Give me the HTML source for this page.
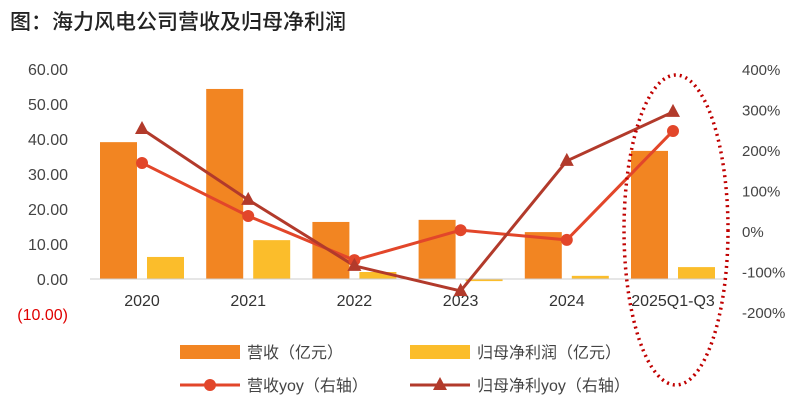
<!DOCTYPE html>
<html><head><meta charset="utf-8"><style>
body{margin:0;width:806px;height:412px;background:#fff;overflow:hidden;font-family:"Liberation Sans","Noto Sans CJK SC",sans-serif}
</style></head><body>
<svg width="806" height="412" font-family="Liberation Sans, Noto Sans CJK SC, sans-serif">
<text x="10" y="29" font-size="21" font-weight="500" fill="#222">图：海力风电公司营收及归母净利润</text>
<g id="g"></g>
<ellipse cx="676" cy="230" rx="52" ry="155" fill="none" stroke="#C00000" stroke-width="3.5" stroke-dasharray="2,4"/>
</svg>
<script>
const categories=["2020","2021","2022","2023","2024","2025Q1-Q3"];
const revenue=[39.1,54.3,16.3,16.9,13.4,36.6];
const profit=[6.3,11.1,2.0,-0.6,0.9,3.4];
const revYoy=[168,37,-72,2,-22,247];
const profitYoy=[252,77,-86,-148,173,294];
const leftTicks=[60,50,40,30,20,10,0,-10];
const rightTicks=[400,300,200,100,0,-100,-200];
const NS="http://www.w3.org/2000/svg";
const g=document.getElementById('g');
const yL=v=>279-v*3.5;
const yR=v=>231-v*0.405;
const xC=i=>142+i*106.2;
function mk(t,a,p){const e=document.createElementNS(NS,t);for(const k in a)e.setAttribute(k,a[k]);(p||g).appendChild(e);return e;}
leftTicks.forEach(t=>{const e=mk('text',{x:68,y:yL(t)+6,'font-size':16,'text-anchor':'end',fill:t<0?'#E00000':'#444'});


e.textContent=t<0?'('+Math.abs(t).toFixed(2)+')':t.toFixed(2);});
rightTicks.forEach(t=>{const e=mk('text',{x:742,y:yR(t)+6,'font-size':15,fill:'#444'});


e.textContent=t+'%';});
categories.forEach((c,i)=>{
const r=mk('rect',{x:xC(i)-42,y:Math.min(yL(revenue[i]),yL(0)),width:37,height:Math.abs(revenue[i])*3.5,fill:'#F28522'});


const p=mk('rect',{x:xC(i)+5,y:Math.min(yL(profit[i]),yL(0)),width:37,height:Math.abs(profit[i])*3.5,fill:'#FBBD2B'});


const t=mk('text',{x:xC(i),y:306,'font-size':16,'text-anchor':'middle',fill:'#333'});


t.textContent=c;});
const ax=mk('line',{x1:90,x2:726,y1:279,y2:279,stroke:'#ccc'});


const l1=mk('polyline',{points:revYoy.map((v,i)=>xC(i)+','+yR(v)).join(' '),fill:'none',stroke:'#E2462A','stroke-width':3});


const l2=mk('polyline',{points:profitYoy.map((v,i)=>xC(i)+','+yR(v)).join(' '),fill:'none',stroke:'#B23A2B','stroke-width':3});


revYoy.forEach((v,i)=>{const c=mk('circle',{cx:xC(i),cy:yR(v),r:6,fill:'#E2462A'});

});
profitYoy.forEach((v,i)=>{const x=xC(i),y=yR(v);const c=mk('polygon',{points:`${x},${y-8} ${x-7},${y+5} ${x+7},${y+5}`,fill:'#B23A2B'});

});
const lg=[[180,352,'rect','#F28522','营收（亿元）'],[410,352,'rect','#FBBD2B','归母净利润（亿元）'],[180,385,'circ','#E2462A','营收yoy（右轴）'],[410,385,'tri','#B23A2B','归母净利yoy（右轴）']];
lg.forEach(([x,y,k,c,t])=>{
if(k==='rect'){const r=mk('rect',{x:x,y:y-7,width:60,height:14,fill:c});}
else{const l=mk('line',{x1:x,x2:x+60,y1:y,y2:y,stroke:c,'stroke-width':3});
if(k==='circ')mk('circle',{cx:x+30,cy:y,r:6,fill:c});else mk('polygon',{points:`${x+30},${y-8} ${x+23},${y+5} ${x+37},${y+5}`,fill:c});}
const e=mk('text',{x:x+67,y:y+6,'font-size':16,fill:'#444'});


e.textContent=t;});
</script>
</body></html>
